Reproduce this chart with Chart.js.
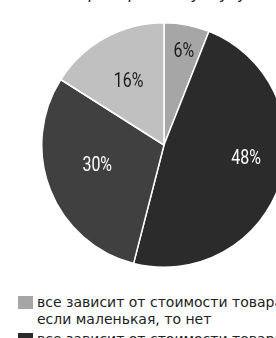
<!DOCTYPE html>
<html lang="ru">
<head>
    <meta charset="UTF-8">
    <title>Опрос</title>
    <script src="https://cdn.jsdelivr.net/npm/chart.js"></script>
    <style>
        html, body {
            margin: 0;
            padding: 0;
            width: 276px;
            height: 338px;
            overflow: hidden;
            background: #fff;
            position: relative;
        }
        .title {
            position: absolute;
            left: -42px;
            top: -16px;
            font-family: "DejaVu Sans", sans-serif;
            font-size: 16px;
            line-height: 19px;
            color: #222;
            white-space: nowrap;
        }
        .chart-box {
            position: absolute;
            left: 41px;
            top: 22px;
            width: 246px;
            height: 246px;
        }
        .legend {
            position: absolute;
            left: 18px;
            top: 294px;
            font-family: "DejaVu Sans", sans-serif;
            font-size: 14px;
            color: #222;
            line-height: 17px;
            white-space: nowrap;
        }
        .legend .item {
            position: relative;
            padding-left: 19px;
            margin-bottom: 3px;
        }
        .legend .sw {
            position: absolute;
            left: 0;
            top: 2px;
            width: 15px;
            height: 13px;
        }
    </style>
</head>
<body>
    <div class="title">Готовы ли вы приобретать услугу</div>
    <div class="chart-box"><canvas id="pie"></canvas></div>
    <div class="legend" id="legend"></div>

    <script>
        const categories = [
            'все зависит от стоимости товара, если маленькая, то нет',
            'все зависит от стоимости товара, если большая, то да',
            'да',
            'нет'
        ];
        const values = [6, 48, 30, 16];
        const colors = ['#a6a6a6', '#2b2b2b', '#404040', '#c0c0c0'];
        const labelColors = ['#1a1a1a', '#ffffff', '#ffffff', '#1a1a1a'];
        // where each percent label sits: share of radius, angle shift (deg)
        const labelRadius = [0.79, 0.68, 0.57, 0.6];
        const labelShift = [1, -9, 5, 0];

        const pctLabels = {
            id: 'pctLabels',
            afterDatasetsDraw(chart) {
                const ctx = chart.ctx;
                const meta = chart.getDatasetMeta(0);
                ctx.save();
                ctx.font = '21px Roboto, sans-serif';
                ctx.textAlign = 'center';
                ctx.textBaseline = 'middle';
                meta.data.forEach((arc, i) => {
                    const mid = (arc.startAngle + arc.endAngle) / 2 + labelShift[i] * Math.PI / 180;
                    const r = arc.outerRadius * labelRadius[i];
                    const x = arc.x + Math.cos(mid) * r;
                    const y = arc.y + Math.sin(mid) * r;
                    ctx.save();
                    ctx.translate(x, y);
                    ctx.scale(0.76, 1); // condensed look
                    ctx.fillStyle = labelColors[i];
                    ctx.fillText(values[i] + '%', 0, 1);
                    ctx.restore();
                });
                ctx.restore();
            }
        };

        new Chart(document.getElementById('pie'), {
            type: 'pie',
            data: {
                labels: categories,
                datasets: [{
                    data: values,
                    backgroundColor: colors,
                    borderColor: '#ffffff',
                    borderWidth: 1.5
                }]
            },
            options: {
                responsive: true,
                maintainAspectRatio: false,
                animation: false,
                layout: { padding: 0 },
                plugins: {
                    legend: { display: false },
                    tooltip: { enabled: false }
                }
            },
            plugins: [pctLabels]
        });

        // legend in html so the long label wraps like the original
        const legend = document.getElementById('legend');
        const wrapped = [
            'все зависит от стоимости товара,<br>если маленькая, то нет',
            'все зависит от стоимости товара,<br>если большая, то да'
        ];
        wrapped.forEach((txt, i) => {
            const row = document.createElement('div');
            row.className = 'item';
            row.innerHTML = '<span class="sw" style="background:' + colors[i] + '"></span>' + txt;
            legend.appendChild(row);
        });
    </script>
</body>
</html>
